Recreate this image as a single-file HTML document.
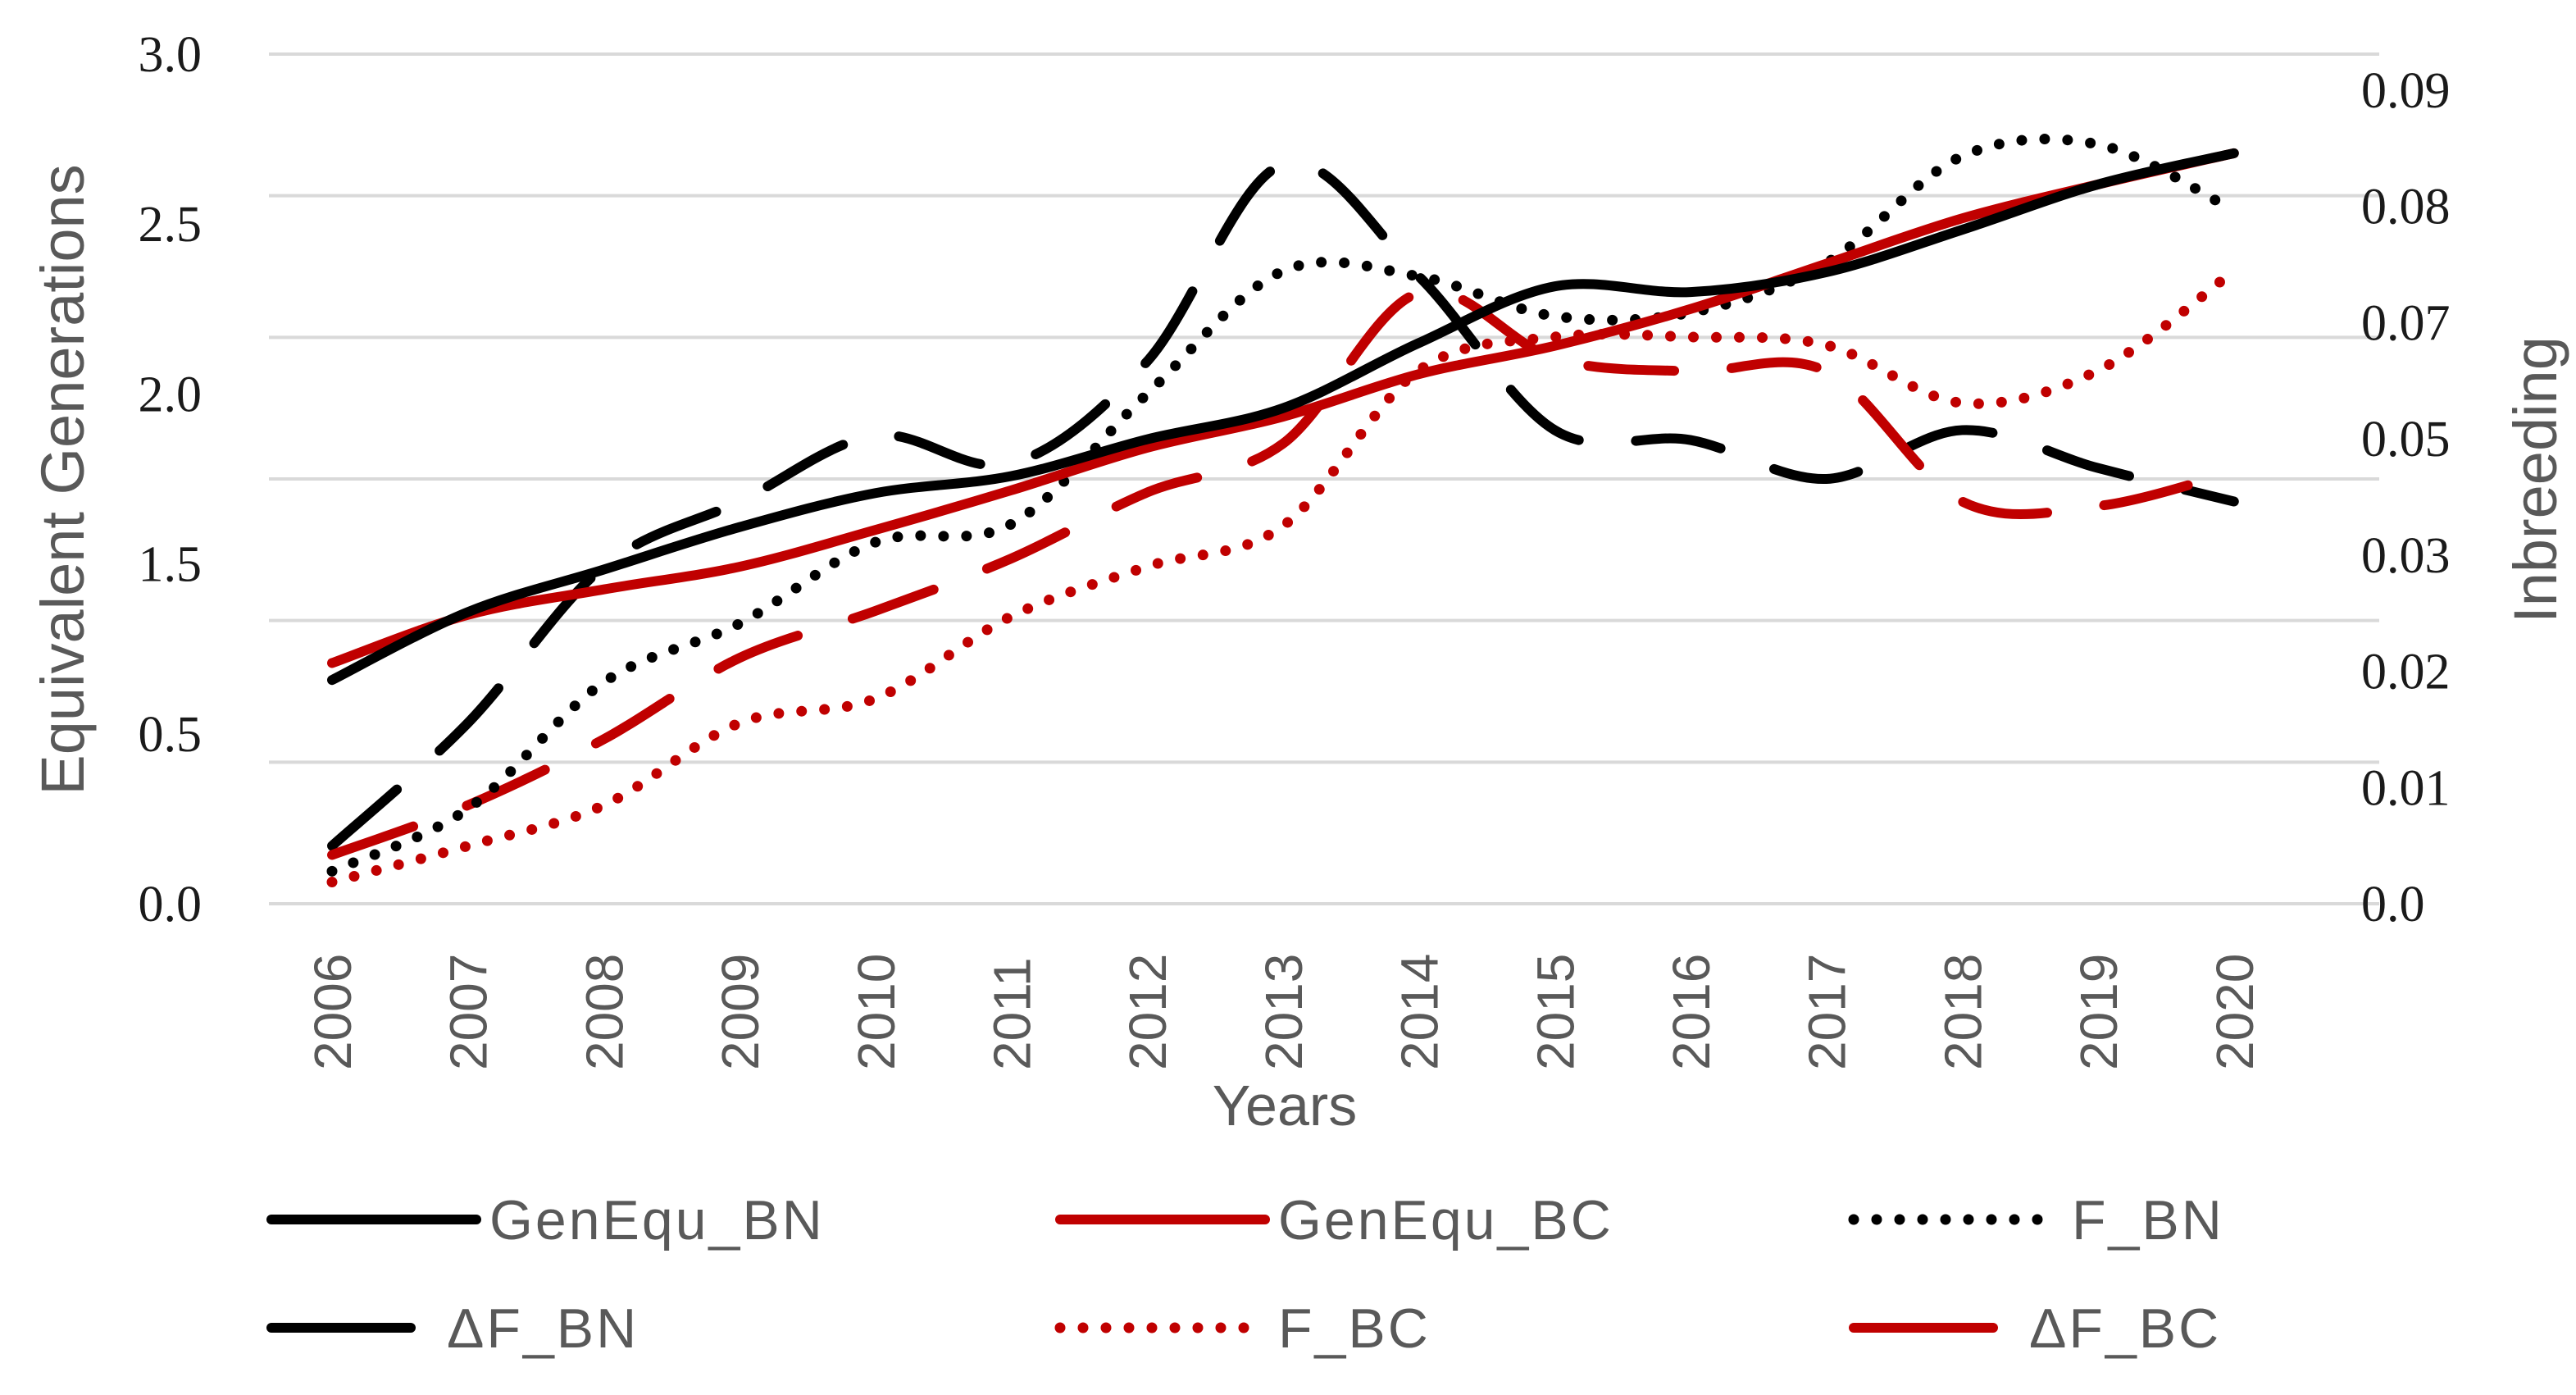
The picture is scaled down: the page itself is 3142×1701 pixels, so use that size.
<!DOCTYPE html>
<html><head><meta charset="utf-8"><style>
html,body{margin:0;padding:0;background:#fff}
svg{display:block}
.ax{font-family:"Liberation Serif",serif;font-size:62px;fill:#1a1a1a}
.lab{font-family:"Liberation Sans",sans-serif;fill:#595959}
</style></head><body>
<svg id="chart" width="3142" height="1701" viewBox="0 0 3142 1701" xmlns="http://www.w3.org/2000/svg">
<g id="grid"></g>
<g id="ticks"></g>
<g id="series"></g>
<text class="lab" font-size="74" transform="translate(102,585) rotate(-90)" text-anchor="middle">Equivalent Generations</text>
<text class="lab" font-size="74" transform="translate(3118,585) rotate(-90)" text-anchor="middle">Inbreeding</text>
<text class="lab" font-size="70" x="1567" y="1372" text-anchor="middle">Years</text>
<g id="legend"></g>
</svg>
<script>
const years=[2006,2007,2008,2009,2010,2011,2012,2013,2014,2015,2016,2017,2018,2019,2020];
const leftTicks=["3.0","2.5","2.0","1.5","0.5","0.0"];
const rightTicks=["0.09","0.08","0.07","0.05","0.03","0.02","0.01","0.0"];
const genEquBN=[0.79,1.03,1.18,1.33,1.45,1.51,1.64,1.75,1.98,2.18,2.16,2.23,2.38,2.54,2.65];
const genEquBC=[0.85,1.02,1.11,1.19,1.32,1.46,1.61,1.72,1.87,1.97,2.10,2.26,2.42,2.54,2.65];
const fBN=[0.0036,0.0105,0.0245,0.031,0.040,0.042,0.0564,0.070,0.0694,0.065,0.0654,0.0709,0.0827,0.084,0.0767];
const fBC=[0.0024,0.0064,0.0109,0.020,0.0227,0.0318,0.0373,0.0418,0.059,0.0627,0.0627,0.0618,0.0554,0.059,0.070];
const dFBN=[0.0064,0.020,0.0373,0.0445,0.0518,0.0487,0.060,0.0818,0.0694,0.0524,0.0513,0.047,0.0524,0.0482,0.0445];
const dFBC=[0.0054,0.0109,0.0182,0.0272,0.0324,0.0382,0.0455,0.0509,0.0676,0.0603,0.0589,0.0589,0.0445,0.044,0.0478];

const NS="http://www.w3.org/2000/svg";
const X0=405,XS=165.7,Y0=1102,YT=66;
const xPos=i=>X0+i*XS;
const yLeft=v=>Y0-v/3*(Y0-YT);
const yRight=v=>Y0-v/0.09*(Y0-110);
function mk(tag,attrs,parent){const e=document.createElementNS(NS,tag);for(const k in attrs)e.setAttribute(k,attrs[k]);parent.appendChild(e);return e;}
const grid=document.getElementById('grid'),ticks=document.getElementById('ticks'),series=document.getElementById('series'),legend=document.getElementById('legend');
for(let i=0;i<7;i++){const y=YT+i*(Y0-YT)/6;
 const l=mk('line',{x1:328,x2:2902,y1:y,y2:y,stroke:'#d9d9d9','stroke-width':4},grid);
 
 }
leftTicks.forEach((t,i)=>{const y=YT+i*(Y0-YT)/(leftTicks.length-1);
 const e=mk('text',{x:246,y:y+21,'text-anchor':'end',class:'ax'},ticks);e.textContent=t;
 
 });
rightTicks.forEach((t,i)=>{const y=110+i*(Y0-110)/(rightTicks.length-1);
 const e=mk('text',{x:2880,y:y+21,class:'ax'},ticks);e.textContent=t;
 
 });
years.forEach((yr,i)=>{const e=mk('text',{transform:`translate(${xPos(i)+23},1305) rotate(-90)`,class:'lab','font-size':64},ticks);e.textContent=yr;
 
 });
function smooth(pts){let d=`M${pts[0][0]},${pts[0][1]}`;
 for(let i=0;i<pts.length-1;i++){const p0=pts[i-1]||pts[i],p1=pts[i],p2=pts[i+1],p3=pts[i+2]||p2;
  const c1=[p1[0]+(p2[0]-p0[0])/6,p1[1]+(p2[1]-p0[1])/6],c2=[p2[0]-(p3[0]-p1[0])/6,p2[1]-(p3[1]-p1[1])/6];
  d+=` C${c1[0]},${c1[1]} ${c2[0]},${c2[1]} ${p2[0]},${p2[1]}`;}return d;}
const BLK='#000',RED='#c00000';
const styles={
 solid:{'stroke-width':12,'stroke-linecap':'round'},
 dot:{'stroke-width':13,'stroke-linecap':'round','stroke-dasharray':'0 28'},
 dash:{'stroke-width':12,'stroke-linecap':'round','stroke-dasharray':'105 70'}};
const defs=[
 {name:'genequ-bn',data:genEquBN,ys:yLeft,color:BLK,st:'solid',label:'GenEqu_BN',lx:331,ly:1487},
 {name:'genequ-bc',data:genEquBC,ys:yLeft,color:RED,st:'solid',label:'GenEqu_BC',lx:1293,ly:1487},
 {name:'f-bn',data:fBN,ys:yRight,color:BLK,st:'dot',label:'F_BN',lx:2261,ly:1487},
 {name:'delta-f-bn',data:dFBN,ys:yRight,color:BLK,st:'dash',label:'ΔF_BN',lx:331,ly:1619},
 {name:'f-bc',data:fBC,ys:yRight,color:RED,st:'dot',label:'F_BC',lx:1293,ly:1619},
 {name:'delta-f-bc',data:dFBC,ys:yRight,color:RED,st:'dash',label:'ΔF_BC',lx:2261,ly:1619}];
[3,4,5,2,1,0].forEach(k=>{const s=defs[k];
 const pts=s.data.map((v,i)=>[xPos(i),s.ys(v)]);
 const p=mk('path',Object.assign({d:smooth(pts),fill:'none',stroke:s.color},styles[s.st]),series);
 
 });
defs.forEach(s=>{
 const len=s.st==='dash'?170:250;
 const l=mk('line',Object.assign({x1:s.lx,x2:s.lx+len,y1:s.ly,y2:s.ly,stroke:s.color},styles[s.st]),legend);
 if(s.st==='dash')l.setAttribute('stroke-dasharray','170 100');
 
 
 const t=mk('text',{x:s.lx+(s.st==='dash'?214:266),y:s.ly+24,class:'lab','font-size':68,'letter-spacing':3},legend);t.textContent=s.label;
 
 });
</script>
</body></html>
